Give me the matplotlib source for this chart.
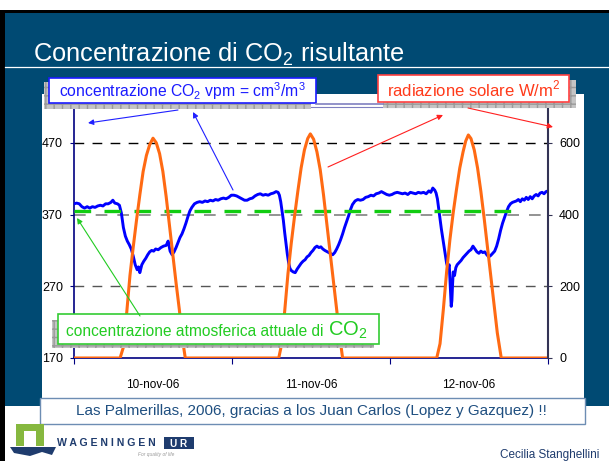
import matplotlib
matplotlib.use('Agg')
import matplotlib.pyplot as plt
from matplotlib.patches import Rectangle, Polygon

plt.rcParams['font.family'] = ['Liberation Sans', 'DejaVu Sans']
NARROW = ['Liberation Sans Narrow', 'Liberation Sans', 'DejaVu Sans']

# --- dati (ore dal 10-nov-06 00:00) ---
co2_hours = [0.0, 0.4, 0.8, 1.2, 1.6, 2.0, 2.4, 2.8, 3.2, 3.6, 4.0, 4.4, 4.8, 5.2, 5.6, 5.9,
             6.2, 6.6, 6.9, 7.2, 7.5, 7.8, 8.1, 8.4, 8.7, 9.0, 9.3, 9.6, 9.8, 10.0, 10.3,
             10.6, 10.9, 11.2, 11.5, 11.8, 12.1, 12.4, 12.8, 13.2, 13.6, 14.0, 14.3, 14.6,
             14.9, 15.2, 15.5, 15.8, 16.1, 16.4, 16.7, 17.0, 17.3, 17.6, 17.9, 18.3, 18.7,
             19.1, 19.5, 19.9, 20.3, 20.7, 21.1, 21.5, 21.9, 22.3, 22.7, 23.1, 23.5, 23.9,
             24.3, 24.7, 25.1, 25.5, 25.9, 26.3, 26.7, 27.1, 27.5, 27.9, 28.3, 28.7, 29.1,
             29.5, 29.9, 30.3, 30.7, 31.0, 31.2, 31.4, 31.6, 31.8, 32.0, 32.2, 32.4, 32.6,
             32.8, 33.0, 33.3, 33.6, 33.9, 34.2, 34.5, 34.8, 35.1, 35.4, 35.7, 36.0, 36.3,
             36.6, 36.9, 37.2, 37.5, 37.8, 38.1, 38.5, 38.9, 39.3, 39.6, 39.9, 40.2, 40.5,
             40.8, 41.1, 41.4, 41.7, 42.0, 42.3, 42.7, 43.1, 43.5, 43.9, 44.3, 44.7, 45.1,
             45.5, 45.9, 46.3, 46.7, 47.1, 47.5, 47.9,
             48.3, 48.7, 49.1, 49.5, 49.9, 50.3, 50.7, 51.1, 51.5, 51.9, 52.3, 52.7, 53.1,
             53.5, 53.9, 54.2, 54.5, 54.8, 55.0, 55.2, 55.4, 55.6, 55.8, 56.0, 56.2, 56.4,
             56.6, 56.8, 57.0, 57.1, 57.2, 57.3, 57.4, 57.5, 57.6, 57.8, 58.0, 58.2, 58.5,
             58.8, 59.1, 59.4, 59.7, 60.0, 60.3, 60.6, 60.9, 61.2, 61.5, 61.8, 62.1, 62.4,
             62.7, 63.0, 63.3, 63.6, 63.9, 64.2, 64.5, 64.8, 65.1, 65.4, 65.7, 66.0, 66.3,
             66.6, 66.9, 67.2, 67.5, 67.8, 68.1, 68.4, 68.7, 69.0, 69.3, 69.6, 69.9, 70.2,
             70.5, 70.8, 71.1, 71.4, 71.7, 72.0]
co2_vpm = [385, 386, 385, 381, 379, 381, 379, 381, 380, 382, 383, 382, 385, 385, 387, 390,
           386, 385, 383, 372, 352, 340, 333, 328, 322, 312, 300, 293, 297, 289, 300,
           305, 309, 314, 318, 320, 319, 322, 321, 324, 326, 327, 333, 319,
           314, 318, 324, 331, 338, 343, 350, 358, 367, 375, 380, 385, 387,
           388, 387, 389, 388, 390, 389, 391, 390, 392, 393, 392, 394, 397,
           397, 396, 394, 392, 390, 390, 392, 393, 396, 398, 399, 397, 398,
           397, 399, 400, 402, 401, 397, 388, 375, 362, 345, 330, 315, 303,
           295, 292, 290, 289, 294, 298, 302, 305, 307, 311, 313, 317, 320,
           324, 326, 324, 325, 322, 320, 318, 316, 314, 317, 322, 328, 335,
           343, 352, 360, 368, 377, 384, 389, 391, 390, 391, 394, 395, 397,
           396, 399, 400, 402, 400, 398, 397,
           398, 400, 401, 400, 399, 400, 398, 401, 400, 399, 401, 400, 401,
           399, 403, 401, 407, 404, 400, 392, 378, 365, 350, 338, 325, 313,
           302, 296, 300, 280, 262, 242, 250, 272, 290, 285, 296, 300, 303,
           306, 310, 313, 316, 319, 321, 326, 322, 318, 316, 319, 317, 318,
           314, 311, 313, 316, 319, 326, 336, 348, 358, 366, 374, 381, 385,
           387, 388, 389, 391, 388, 392, 390, 394, 391, 395, 392, 396, 398,
           396, 400, 401, 399, 402, 403]

rad_hours = [0, 7.0, 7.5, 8.0, 8.5, 9.0, 9.5, 10.0, 10.5, 11.0, 11.5, 12.0, 12.5, 13.0,
             13.5, 14.0, 14.5, 15.0, 15.5, 16.0, 16.5, 16.9,
             31.1, 31.5, 32.0, 32.5, 33.0, 33.5, 34.0, 34.5, 35.0, 35.5, 35.9, 36.4, 36.9,
             37.4, 37.9, 38.4, 38.9, 39.4, 39.9, 40.4, 40.8,
             55.1, 55.6, 56.1, 56.6, 57.1, 57.6, 58.1, 58.6, 59.1, 59.5, 59.9, 60.3, 60.8,
             61.3, 61.8, 62.3, 62.8, 63.3, 63.8, 64.3, 64.9, 72.0]
rad_wm2 = [0, 0, 30, 125, 230, 310, 385, 455, 520, 565, 595, 613, 600, 570,
           520, 450, 370, 290, 210, 135, 50, 0,
           0, 35, 130, 235, 320, 395, 465, 530, 580, 612, 625, 610, 575,
           525, 455, 375, 295, 215, 135, 55, 0,
           0, 40, 135, 240, 330, 405, 470, 530, 575, 605, 622, 612, 580,
           530, 465, 390, 310, 230, 150, 70, 0, 0]

atm_co2 = 375          # concentrazione atmosferica attuale
atm_hours = [0, 67.6]

day_ticks = [0, 24, 48, 72]
day_mid = [12, 36, 60]
day_labels = ['10-nov-06', '11-nov-06', '12-nov-06']

W, H = 609, 461
fig = plt.figure(figsize=(W / 100, H / 100), dpi=100, facecolor='white')


def px_axes(zorder):
    a = fig.add_axes([0, 0, 1, 1], zorder=zorder)
    a.set_xlim(0, W)
    a.set_ylim(H, 0)
    a.axis('off')
    a.patch.set_visible(False)
    return a


# sfondo della diapositiva
bg = px_axes(0)
bg.add_patch(Rectangle((0, 10), W, 3, color='black', lw=0))
bg.add_patch(Rectangle((0, 10), 5, H, color='black', lw=0))
bg.add_patch(Rectangle((5, 13), W - 5, 393, color='#004a73', lw=0))
bg.plot([5, W], [67, 67], color='white', lw=0.9)
bg.text(33, 62, r'Concentrazione di CO$_\mathregular{2}$ risultante', color='white',
        fontsize=18.3, family=NARROW, va='baseline', ha='left')
bg.add_patch(Rectangle((42, 94), 542, 305, facecolor='white', lw=0))

# grafico
x0, x1, y0, y1 = 74, 548, 358, 107
ax = fig.add_axes([x0 / W, 1 - y0 / H, (x1 - x0) / W, (y0 - y1) / H], zorder=5)
ax.patch.set_visible(False)
ax.set_xlim(0, 72)
ax.set_ylim(170, 520)
ax.axhline(470, color='black', lw=1, dashes=(7, 6))
ax.axhline(370, color='#808080', lw=1.2, dashes=(7, 6))
ax.axhline(270, color='#555555', lw=1, dashes=(7, 6))
ax.plot(co2_hours, co2_vpm, color='#0000ff', lw=2.1, zorder=3)
ax.plot(atm_hours, [atm_co2, atm_co2], color='#11cc11', lw=2.4, dashes=(5, 4), zorder=4)

ax.set_yticks([170, 270, 370, 470])
ax.set_xticks(day_ticks)
ax.set_xticklabels([])
ax.set_xticks(day_mid, minor=True)
ax.set_xticklabels(day_labels, minor=True)
ax.tick_params(axis='x', which='major', direction='out', length=4, color='#000080')
ax.tick_params(axis='x', which='minor', length=0, pad=15, labelsize=8.5)
ax.tick_params(axis='y', direction='out', length=3, color='#000080', labelsize=9, pad=5)
for s in ['left', 'bottom']:
    ax.spines[s].set_color('#000080')
    ax.spines[s].set_linewidth(1.2)
ax.spines['top'].set_color('#8080c0')
ax.spines['right'].set_visible(False)

ax2 = ax.twinx()
ax2.set_zorder(6)
ax2.patch.set_visible(False)
ax2.set_ylim(0, 700)
ax2.plot(rad_hours, rad_wm2, color='#ff6a13', lw=2.2)
ax2.set_yticks([0, 200, 400, 600])
ax2.tick_params(axis='y', direction='out', length=3, color='#333355', labelsize=9, pad=5)
ax2.spines['right'].set_color('#333355')
ax2.spines['right'].set_linewidth(1.5)
for s in ['left', 'bottom', 'top']:
    ax2.spines[s].set_visible(False)

# etichette, frecce e riquadri
ov = px_axes(20)


def shadow(x, y, w, h):
    ov.add_patch(Rectangle((x, y), w, h, facecolor='#c4c4c4', edgecolor='#9a9a9a',
                           hatch='++', lw=0))


def arrow(tail, head, color):
    ov.annotate('', xy=head, xytext=tail,
                arrowprops=dict(arrowstyle='-|>', color=color, lw=0.8,
                                mutation_scale=8, shrinkA=0, shrinkB=0))


shadow(44, 82, 267, 27)
shadow(383, 80, 193, 28)
shadow(52, 320, 322, 28)

arrow((178, 110), (88, 123), '#2020ff')
arrow((233, 190), (193, 112), '#2020ff')
arrow((328, 167), (443, 115), '#ff2020')
arrow((468, 108), (553, 127), '#ff2020')
arrow((140, 316), (77, 218), '#22cc22')

ov.plot([316, 383], [104, 104], color='#8080c0', lw=1.2)

ov.add_patch(Rectangle((49, 78), 267, 25, facecolor='white', edgecolor='#1a1aff', lw=1.2))
ov.text(182, 91, r'concentrazione CO$_\mathregular{2}$ vpm = cm$^\mathregular{3}$/m$^\mathregular{3}$',
        color='#1a1aff', fontsize=11.3, family=NARROW, ha='center', va='center')

ov.add_patch(Rectangle((378, 75), 191, 27, facecolor='white', edgecolor='#ff4040', lw=1.2))
ov.text(474, 89, r'radiazione solare W/m$^\mathregular{2}$', color='#ff3a1a',
        fontsize=12, family=NARROW, ha='center', va='center')

ov.add_patch(Rectangle((58, 314), 321, 30, facecolor='white', edgecolor='#33cc33', lw=1.2))
green_txt = ov.text(66, 336, 'concentrazione atmosferica attuale di ', color='#22cc22',
                    fontsize=11.2, family=NARROW, ha='left', va='baseline')
renderer = fig.canvas.get_renderer()
bb = green_txt.get_window_extent(renderer=renderer)
co2_x = ov.transData.inverted().transform((bb.x1, bb.y0))[0]
ov.text(co2_x, 336, r'CO$_\mathregular{2}$', color='#22cc22',
        fontsize=14.5, family=NARROW, ha='left', va='baseline')

ov.add_patch(Rectangle((40, 398), 545, 26, facecolor='white', edgecolor='#6d8db3', lw=1))
ov.text(311, 411, 'Las Palmerillas, 2006, gracias a los Juan Carlos (Lopez y Gazquez) !!',
        color='#1f4f80', fontsize=11, ha='center', va='center')

# logo e autore
ov.add_patch(Rectangle((16, 424), 28, 22, facecolor='#86b83f', lw=0))
ov.add_patch(Rectangle((24, 431), 12, 15, facecolor='white', lw=0))
ov.add_patch(Polygon([(10, 447), (56, 447), (52, 455), (42, 452), (30, 456), (14, 453)],
                     closed=True, facecolor='#1f3c6e', lw=0))
ov.text(57, 443, 'W A G E N I N G E N', color='#1f3c6e', fontsize=7.6, weight='bold',
        va='center', ha='left')
ov.add_patch(Rectangle((164, 437), 30, 12, facecolor='#1f3c6e', lw=0))
ov.text(179, 443.5, 'U R', color='white', fontsize=7.2, weight='bold', ha='center',
        va='center')
ov.text(138, 454, 'For quality of life', color='#9a9a9a', fontsize=3.5, style='italic',
        ha='left', va='center')
ov.text(500, 458, 'Cecilia Stanghellini', color='#1f3c6e', fontsize=8.5, family=NARROW,
        ha='left', va='baseline')

fig.savefig('out.png', dpi=100, facecolor='white')
